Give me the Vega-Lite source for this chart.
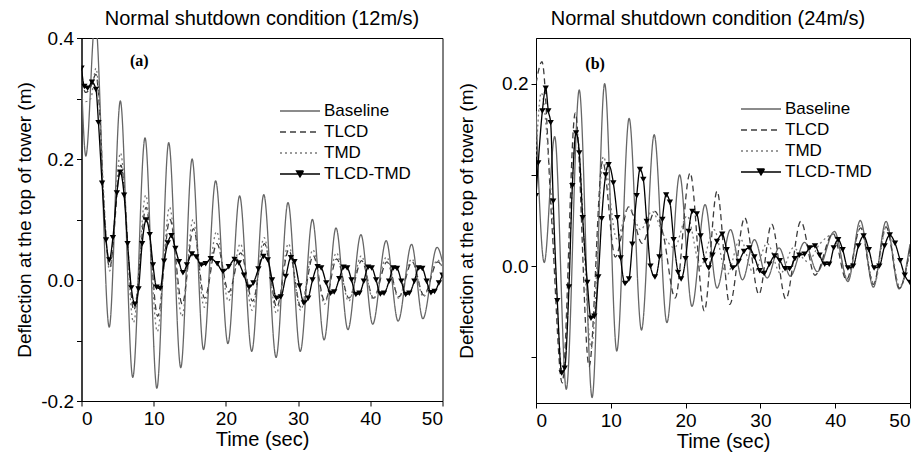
{
"$schema": "https://vega.github.io/schema/vega-lite/v6.json",
"padding": {"left": 14.5, "top": 8, "right": 5, "bottom": 5},
"config": {
 "font": "Liberation Sans",
 "view": {"stroke": "black", "strokeWidth": 1},
 "axis": {"grid": false, "domainColor": "black", "tickColor": "black", "labelColor": "black", "titleColor": "black", "labelFontSize": 19, "titleFontSize": 19, "titleFontWeight": "normal", "tickSize": 5, "labelPadding": 3, "labelFont": "Liberation Sans", "titleFont": "Liberation Sans"},
 "title": {"fontSize": 20, "fontWeight": "normal", "font": "Liberation Sans", "color": "black"}
},
"datasets": {
"a": [
{"s":"Baseline","t":0,"v":0.33},{"s":"Baseline","t":0.6,"v":0.205},{"s":"Baseline","t":1.9,"v":0.43},{"s":"Baseline","t":3.84,"v":-0.078},{"s":"Baseline","t":5.38,"v":0.296},{"s":"Baseline","t":7.1,"v":-0.161},{"s":"Baseline","t":8.8,"v":0.235},{"s":"Baseline","t":10.44,"v":-0.179},{"s":"Baseline","t":12.08,"v":0.227},{"s":"Baseline","t":13.75,"v":-0.145},{"s":"Baseline","t":15.32,"v":0.2},{"s":"Baseline","t":16.9,"v":-0.115},{"s":"Baseline","t":18.58,"v":0.164},{"s":"Baseline","t":20.28,"v":-0.105},{"s":"Baseline","t":21.9,"v":0.139},{"s":"Baseline","t":23.58,"v":-0.118},{"s":"Baseline","t":25.25,"v":0.141},{"s":"Baseline","t":26.95,"v":-0.128},{"s":"Baseline","t":28.6,"v":0.128},{"s":"Baseline","t":30.3,"v":-0.118},{"s":"Baseline","t":31.98,"v":0.1},{"s":"Baseline","t":33.6,"v":-0.099},{"s":"Baseline","t":35.25,"v":0.086},{"s":"Baseline","t":36.9,"v":-0.082},{"s":"Baseline","t":38.7,"v":0.075},{"s":"Baseline","t":40.33,"v":-0.073},{"s":"Baseline","t":42.2,"v":0.065},{"s":"Baseline","t":43.85,"v":-0.068},{"s":"Baseline","t":45.72,"v":0.059},{"s":"Baseline","t":47.28,"v":-0.064},{"s":"Baseline","t":49.25,"v":0.054},{"s":"Baseline","t":50,"v":0.03},
{"s":"TLCD","t":0,"v":0.33},{"s":"TLCD","t":0.6,"v":0.31},{"s":"TLCD","t":1.3,"v":0.32},{"s":"TLCD","t":2.0,"v":0.34},{"s":"TLCD","t":2.5,"v":0.28},{"s":"TLCD","t":3.0,"v":0.15},{"s":"TLCD","t":3.9,"v":0.02},{"s":"TLCD","t":5.45,"v":0.19},{"s":"TLCD","t":7.25,"v":-0.05},{"s":"TLCD","t":8.95,"v":0.12},{"s":"TLCD","t":10.55,"v":-0.06},{"s":"TLCD","t":12.25,"v":0.1},{"s":"TLCD","t":13.95,"v":-0.04},{"s":"TLCD","t":15.5,"v":0.085},{"s":"TLCD","t":17.05,"v":-0.03},{"s":"TLCD","t":18.75,"v":0.06},{"s":"TLCD","t":20.4,"v":-0.02},{"s":"TLCD","t":22.05,"v":0.045},{"s":"TLCD","t":23.7,"v":-0.035},{"s":"TLCD","t":25.35,"v":0.06},{"s":"TLCD","t":27.05,"v":-0.045},{"s":"TLCD","t":28.7,"v":0.05},{"s":"TLCD","t":30.4,"v":-0.045},{"s":"TLCD","t":32.1,"v":0.04},{"s":"TLCD","t":33.7,"v":-0.035},{"s":"TLCD","t":35.35,"v":0.035},{"s":"TLCD","t":37.05,"v":-0.03},{"s":"TLCD","t":38.8,"v":0.032},{"s":"TLCD","t":40.45,"v":-0.03},{"s":"TLCD","t":42.3,"v":0.03},{"s":"TLCD","t":43.95,"v":-0.028},{"s":"TLCD","t":45.8,"v":0.03},{"s":"TLCD","t":47.4,"v":-0.025},{"s":"TLCD","t":49.35,"v":0.03},{"s":"TLCD","t":50,"v":0.02},
{"s":"TMD","t":0,"v":0.3},{"s":"TMD","t":0.6,"v":0.295},{"s":"TMD","t":1.3,"v":0.3},{"s":"TMD","t":2.0,"v":0.35},{"s":"TMD","t":2.5,"v":0.29},{"s":"TMD","t":3.0,"v":0.16},{"s":"TMD","t":3.9,"v":0.015},{"s":"TMD","t":5.4,"v":0.21},{"s":"TMD","t":7.2,"v":-0.07},{"s":"TMD","t":8.9,"v":0.14},{"s":"TMD","t":10.5,"v":-0.085},{"s":"TMD","t":12.2,"v":0.12},{"s":"TMD","t":13.9,"v":-0.06},{"s":"TMD","t":15.45,"v":0.1},{"s":"TMD","t":17.0,"v":-0.045},{"s":"TMD","t":18.7,"v":0.08},{"s":"TMD","t":20.35,"v":-0.035},{"s":"TMD","t":22.0,"v":0.06},{"s":"TMD","t":23.65,"v":-0.05},{"s":"TMD","t":25.3,"v":0.07},{"s":"TMD","t":27.0,"v":-0.055},{"s":"TMD","t":28.65,"v":0.06},{"s":"TMD","t":30.35,"v":-0.05},{"s":"TMD","t":32.05,"v":0.05},{"s":"TMD","t":33.65,"v":-0.04},{"s":"TMD","t":35.3,"v":0.045},{"s":"TMD","t":37.0,"v":-0.035},{"s":"TMD","t":38.75,"v":0.04},{"s":"TMD","t":40.4,"v":-0.032},{"s":"TMD","t":42.25,"v":0.038},{"s":"TMD","t":43.9,"v":-0.03},{"s":"TMD","t":45.75,"v":0.035},{"s":"TMD","t":47.35,"v":-0.028},{"s":"TMD","t":49.3,"v":0.033},{"s":"TMD","t":50,"v":0.02},
{"s":"TLCD-TMD","t":0,"v":0.35},{"s":"TLCD-TMD","t":0.4,"v":0.32},{"s":"TLCD-TMD","t":0.85,"v":0.317},{"s":"TLCD-TMD","t":1.45,"v":0.327},{"s":"TLCD-TMD","t":2.0,"v":0.315},{"s":"TLCD-TMD","t":2.35,"v":0.26},{"s":"TLCD-TMD","t":2.85,"v":0.16},{"s":"TLCD-TMD","t":3.4,"v":0.066},{"s":"TLCD-TMD","t":3.85,"v":0.033},{"s":"TLCD-TMD","t":4.35,"v":0.07},{"s":"TLCD-TMD","t":4.9,"v":0.144},{"s":"TLCD-TMD","t":5.38,"v":0.178},{"s":"TLCD-TMD","t":5.9,"v":0.14},{"s":"TLCD-TMD","t":6.38,"v":0.06},{"s":"TLCD-TMD","t":6.9,"v":-0.013},{"s":"TLCD-TMD","t":7.4,"v":-0.04},{"s":"TLCD-TMD","t":7.9,"v":-0.015},{"s":"TLCD-TMD","t":8.4,"v":0.06},{"s":"TLCD-TMD","t":8.95,"v":0.099},{"s":"TLCD-TMD","t":9.45,"v":0.075},{"s":"TLCD-TMD","t":9.9,"v":0.025},{"s":"TLCD-TMD","t":10.4,"v":-0.012},{"s":"TLCD-TMD","t":10.9,"v":-0.014},{"s":"TLCD-TMD","t":11.45,"v":0.031},{"s":"TLCD-TMD","t":11.95,"v":0.061},{"s":"TLCD-TMD","t":12.45,"v":0.073},{"s":"TLCD-TMD","t":13.0,"v":0.052},{"s":"TLCD-TMD","t":13.5,"v":0.03},{"s":"TLCD-TMD","t":14.05,"v":0.012},{"s":"TLCD-TMD","t":14.6,"v":0.025},{"s":"TLCD-TMD","t":15.3,"v":0.043},{"s":"TLCD-TMD","t":15.9,"v":0.038},{"s":"TLCD-TMD","t":16.6,"v":0.025},{"s":"TLCD-TMD","t":17.2,"v":0.027},{"s":"TLCD-TMD","t":17.9,"v":0.035},{"s":"TLCD-TMD","t":18.8,"v":0.027},{"s":"TLCD-TMD","t":19.6,"v":0.014},{"s":"TLCD-TMD","t":20.4,"v":0.022},{"s":"TLCD-TMD","t":21.2,"v":0.034},{"s":"TLCD-TMD","t":21.8,"v":0.028},{"s":"TLCD-TMD","t":22.5,"v":0.008},{"s":"TLCD-TMD","t":23.2,"v":-0.012},{"s":"TLCD-TMD","t":23.8,"v":-0.005},{"s":"TLCD-TMD","t":24.5,"v":0.018},{"s":"TLCD-TMD","t":25.2,"v":0.039},{"s":"TLCD-TMD","t":25.8,"v":0.033},{"s":"TLCD-TMD","t":26.4,"v":0.0},{"s":"TLCD-TMD","t":27.0,"v":-0.03},{"s":"TLCD-TMD","t":27.6,"v":-0.028},{"s":"TLCD-TMD","t":28.3,"v":0.006},{"s":"TLCD-TMD","t":29.0,"v":0.037},{"s":"TLCD-TMD","t":29.5,"v":0.03},{"s":"TLCD-TMD","t":30.2,"v":-0.01},{"s":"TLCD-TMD","t":30.8,"v":-0.038},{"s":"TLCD-TMD","t":31.4,"v":-0.03},{"s":"TLCD-TMD","t":32.0,"v":0.0},{"s":"TLCD-TMD","t":32.7,"v":0.022},{"s":"TLCD-TMD","t":33.2,"v":0.02},{"s":"TLCD-TMD","t":33.9,"v":-0.005},{"s":"TLCD-TMD","t":34.5,"v":-0.022},{"s":"TLCD-TMD","t":35.0,"v":-0.02},{"s":"TLCD-TMD","t":35.7,"v":0.002},{"s":"TLCD-TMD","t":36.3,"v":0.021},{"s":"TLCD-TMD","t":36.8,"v":0.02},{"s":"TLCD-TMD","t":37.4,"v":0.0},{"s":"TLCD-TMD","t":38.0,"v":-0.024},{"s":"TLCD-TMD","t":38.5,"v":-0.022},{"s":"TLCD-TMD","t":39.1,"v":-0.002},{"s":"TLCD-TMD","t":39.7,"v":0.021},{"s":"TLCD-TMD","t":40.2,"v":0.02},{"s":"TLCD-TMD","t":40.8,"v":0.0},{"s":"TLCD-TMD","t":41.4,"v":-0.023},{"s":"TLCD-TMD","t":41.9,"v":-0.022},{"s":"TLCD-TMD","t":42.6,"v":-0.002},{"s":"TLCD-TMD","t":43.2,"v":0.02},{"s":"TLCD-TMD","t":43.7,"v":0.019},{"s":"TLCD-TMD","t":44.3,"v":-0.002},{"s":"TLCD-TMD","t":44.9,"v":-0.024},{"s":"TLCD-TMD","t":45.4,"v":-0.022},{"s":"TLCD-TMD","t":46.1,"v":-0.002},{"s":"TLCD-TMD","t":46.7,"v":0.02},{"s":"TLCD-TMD","t":47.2,"v":0.019},{"s":"TLCD-TMD","t":47.8,"v":-0.002},{"s":"TLCD-TMD","t":48.4,"v":-0.021},{"s":"TLCD-TMD","t":48.9,"v":-0.019},{"s":"TLCD-TMD","t":49.5,"v":-0.005},{"s":"TLCD-TMD","t":50,"v":0.008}
],
"b": [
{"s":"Baseline","t":0,"v":0.17},{"s":"Baseline","t":1.1,"v":0.004},{"s":"Baseline","t":2.5,"v":0.142},{"s":"Baseline","t":4.05,"v":-0.135},{"s":"Baseline","t":5.78,"v":0.193},{"s":"Baseline","t":7.5,"v":-0.144},{"s":"Baseline","t":9.18,"v":0.2},{"s":"Baseline","t":10.8,"v":-0.093},{"s":"Baseline","t":12.45,"v":0.162},{"s":"Baseline","t":14.1,"v":-0.07},{"s":"Baseline","t":15.8,"v":0.144},{"s":"Baseline","t":17.5,"v":-0.062},{"s":"Baseline","t":19.2,"v":0.1},{"s":"Baseline","t":20.85,"v":-0.044},{"s":"Baseline","t":22.6,"v":0.0675},{"s":"Baseline","t":24.2,"v":-0.024},{"s":"Baseline","t":26.0,"v":0.04},{"s":"Baseline","t":27.6,"v":-0.015},{"s":"Baseline","t":29.2,"v":0.029},{"s":"Baseline","t":30.9,"v":-0.013},{"s":"Baseline","t":32.5,"v":0.02},{"s":"Baseline","t":34.0,"v":-0.011},{"s":"Baseline","t":35.9,"v":0.026},{"s":"Baseline","t":37.6,"v":-0.006},{"s":"Baseline","t":39.9,"v":0.038},{"s":"Baseline","t":41.7,"v":-0.017},{"s":"Baseline","t":43.35,"v":0.05},{"s":"Baseline","t":45.1,"v":-0.023},{"s":"Baseline","t":46.8,"v":0.049},{"s":"Baseline","t":48.55,"v":-0.025},{"s":"Baseline","t":50,"v":0.024},
{"s":"TLCD","t":0,"v":0.2},{"s":"TLCD","t":0.8,"v":0.224},{"s":"TLCD","t":2.1,"v":0.05},{"s":"TLCD","t":3.5,"v":-0.128},{"s":"TLCD","t":5.25,"v":0.168},{"s":"TLCD","t":7.1,"v":-0.11},{"s":"TLCD","t":8.9,"v":0.115},{"s":"TLCD","t":10.6,"v":0.01},{"s":"TLCD","t":12.4,"v":0.065},{"s":"TLCD","t":14.2,"v":0.025},{"s":"TLCD","t":15.9,"v":0.06},{"s":"TLCD","t":17.0,"v":0.035},{"s":"TLCD","t":18.6,"v":-0.035},{"s":"TLCD","t":20.6,"v":0.102},{"s":"TLCD","t":22.5,"v":-0.049},{"s":"TLCD","t":24.2,"v":0.082},{"s":"TLCD","t":25.9,"v":-0.042},{"s":"TLCD","t":27.9,"v":0.053},{"s":"TLCD","t":29.8,"v":-0.031},{"s":"TLCD","t":31.5,"v":0.046},{"s":"TLCD","t":33.4,"v":-0.036},{"s":"TLCD","t":35.4,"v":0.049},{"s":"TLCD","t":37.3,"v":-0.01},{"s":"TLCD","t":39.7,"v":0.036},{"s":"TLCD","t":41.5,"v":-0.015},{"s":"TLCD","t":43.4,"v":0.042},{"s":"TLCD","t":45.1,"v":-0.02},{"s":"TLCD","t":46.8,"v":0.043},{"s":"TLCD","t":48.6,"v":-0.024},{"s":"TLCD","t":50,"v":0.02},
{"s":"TMD","t":0,"v":0.12},{"s":"TMD","t":0.7,"v":0.19},{"s":"TMD","t":2.1,"v":0.07},{"s":"TMD","t":3.6,"v":-0.12},{"s":"TMD","t":5.4,"v":0.15},{"s":"TMD","t":7.4,"v":-0.09},{"s":"TMD","t":9.0,"v":0.12},{"s":"TMD","t":10.8,"v":0.03},{"s":"TMD","t":12.4,"v":0.065},{"s":"TMD","t":14.0,"v":0.04},{"s":"TMD","t":15.5,"v":0.06},{"s":"TMD","t":17.0,"v":0.035},{"s":"TMD","t":18.5,"v":0.02},{"s":"TMD","t":20.2,"v":0.055},{"s":"TMD","t":22.0,"v":0.0},{"s":"TMD","t":23.8,"v":0.04},{"s":"TMD","t":25.5,"v":-0.01},{"s":"TMD","t":27.3,"v":0.03},{"s":"TMD","t":29.1,"v":-0.008},{"s":"TMD","t":30.9,"v":0.025},{"s":"TMD","t":32.7,"v":-0.008},{"s":"TMD","t":34.4,"v":0.02},{"s":"TMD","t":36.3,"v":0.005},{"s":"TMD","t":38.0,"v":0.025},{"s":"TMD","t":39.9,"v":0.035},{"s":"TMD","t":41.7,"v":-0.015},{"s":"TMD","t":43.4,"v":0.045},{"s":"TMD","t":45.2,"v":-0.02},{"s":"TMD","t":46.9,"v":0.045},{"s":"TMD","t":48.6,"v":-0.022},{"s":"TMD","t":50,"v":0.015},
{"s":"TLCD-TMD","t":0,"v":0.077},{"s":"TLCD-TMD","t":0.3,"v":0.113},{"s":"TLCD-TMD","t":0.85,"v":0.17},{"s":"TLCD-TMD","t":1.3,"v":0.195},{"s":"TLCD-TMD","t":1.65,"v":0.17},{"s":"TLCD-TMD","t":1.96,"v":0.157},{"s":"TLCD-TMD","t":2.3,"v":0.071},{"s":"TLCD-TMD","t":2.85,"v":-0.038},{"s":"TLCD-TMD","t":3.43,"v":-0.117},{"s":"TLCD-TMD","t":3.83,"v":-0.112},{"s":"TLCD-TMD","t":4.41,"v":-0.023},{"s":"TLCD-TMD","t":4.86,"v":0.088},{"s":"TLCD-TMD","t":5.35,"v":0.146},{"s":"TLCD-TMD","t":5.79,"v":0.124},{"s":"TLCD-TMD","t":6.24,"v":0.053},{"s":"TLCD-TMD","t":6.86,"v":-0.018},{"s":"TLCD-TMD","t":7.35,"v":-0.057},{"s":"TLCD-TMD","t":7.8,"v":-0.055},{"s":"TLCD-TMD","t":8.33,"v":-0.012},{"s":"TLCD-TMD","t":8.78,"v":0.052},{"s":"TLCD-TMD","t":9.31,"v":0.1},{"s":"TLCD-TMD","t":9.71,"v":0.111},{"s":"TLCD-TMD","t":10.34,"v":0.091},{"s":"TLCD-TMD","t":10.87,"v":0.053},{"s":"TLCD-TMD","t":11.32,"v":0.009},{"s":"TLCD-TMD","t":11.9,"v":-0.019},{"s":"TLCD-TMD","t":12.43,"v":-0.014},{"s":"TLCD-TMD","t":12.88,"v":0.024},{"s":"TLCD-TMD","t":13.46,"v":0.077},{"s":"TLCD-TMD","t":13.9,"v":0.106},{"s":"TLCD-TMD","t":14.35,"v":0.095},{"s":"TLCD-TMD","t":14.8,"v":0.049},{"s":"TLCD-TMD","t":15.3,"v":0.0},{"s":"TLCD-TMD","t":15.9,"v":-0.012},{"s":"TLCD-TMD","t":16.5,"v":0.01},{"s":"TLCD-TMD","t":16.9,"v":0.051},{"s":"TLCD-TMD","t":17.4,"v":0.078},{"s":"TLCD-TMD","t":17.9,"v":0.07},{"s":"TLCD-TMD","t":18.4,"v":0.029},{"s":"TLCD-TMD","t":19.0,"v":-0.007},{"s":"TLCD-TMD","t":19.4,"v":-0.014},{"s":"TLCD-TMD","t":20.0,"v":0.008},{"s":"TLCD-TMD","t":20.4,"v":0.038},{"s":"TLCD-TMD","t":20.9,"v":0.06},{"s":"TLCD-TMD","t":21.5,"v":0.057},{"s":"TLCD-TMD","t":22.0,"v":0.033},{"s":"TLCD-TMD","t":22.6,"v":0.006},{"s":"TLCD-TMD","t":23.1,"v":-0.002},{"s":"TLCD-TMD","t":23.6,"v":0.012},{"s":"TLCD-TMD","t":24.2,"v":0.027},{"s":"TLCD-TMD","t":24.9,"v":0.035},{"s":"TLCD-TMD","t":25.5,"v":0.018},{"s":"TLCD-TMD","t":26.3,"v":-0.002},{"s":"TLCD-TMD","t":27.1,"v":0.005},{"s":"TLCD-TMD","t":27.8,"v":0.016},{"s":"TLCD-TMD","t":28.5,"v":0.02},{"s":"TLCD-TMD","t":29.2,"v":0.01},{"s":"TLCD-TMD","t":29.9,"v":-0.005},{"s":"TLCD-TMD","t":30.5,"v":-0.008},{"s":"TLCD-TMD","t":31.2,"v":0.002},{"s":"TLCD-TMD","t":31.9,"v":0.011},{"s":"TLCD-TMD","t":32.6,"v":0.006},{"s":"TLCD-TMD","t":33.3,"v":-0.003},{"s":"TLCD-TMD","t":33.9,"v":-0.003},{"s":"TLCD-TMD","t":34.6,"v":0.008},{"s":"TLCD-TMD","t":35.2,"v":0.012},{"s":"TLCD-TMD","t":35.9,"v":0.013},{"s":"TLCD-TMD","t":36.6,"v":0.02},{"s":"TLCD-TMD","t":37.3,"v":0.022},{"s":"TLCD-TMD","t":37.9,"v":0.012},{"s":"TLCD-TMD","t":38.6,"v":0.002},{"s":"TLCD-TMD","t":39.2,"v":0.002},{"s":"TLCD-TMD","t":39.8,"v":0.02},{"s":"TLCD-TMD","t":40.4,"v":0.029},{"s":"TLCD-TMD","t":41.0,"v":0.018},{"s":"TLCD-TMD","t":41.7,"v":-0.002},{"s":"TLCD-TMD","t":42.4,"v":0.0},{"s":"TLCD-TMD","t":43.1,"v":0.022},{"s":"TLCD-TMD","t":43.8,"v":0.033},{"s":"TLCD-TMD","t":44.5,"v":0.018},{"s":"TLCD-TMD","t":45.2,"v":-0.002},{"s":"TLCD-TMD","t":45.9,"v":0.0},{"s":"TLCD-TMD","t":46.6,"v":0.022},{"s":"TLCD-TMD","t":47.3,"v":0.034},{"s":"TLCD-TMD","t":48.0,"v":0.025},{"s":"TLCD-TMD","t":48.7,"v":0.006},{"s":"TLCD-TMD","t":49.3,"v":-0.01},{"s":"TLCD-TMD","t":50,"v":-0.018}
]
},
"spacing": 13.5,
"resolve": {"scale": {"x": "independent", "y": "independent", "color": "independent", "strokeDash": "independent"}, "legend": {"color": "independent", "strokeDash": "independent"}},
"hconcat": [
{
 "width": 361, "height": 363,
 "title": {"text": "Normal shutdown condition (12m/s)", "frame": "group", "anchor": "middle", "offset": 0},
 "layer": [
  {"data": {"name": "a"},
   "mark": {"type": "line", "interpolate": "monotone", "strokeWidth": 1.3, "clip": true},
   "encoding": {
    "x": {"field": "t", "type": "quantitative", "scale": {"domain": [0, 50], "nice": false}, "axis": {"title": "Time (sec)", "titleFontSize": 20, "values": [0,5,10,15,20,25,30,35,40,45,50], "labelExpr": "datum.value % 10 === 0 ? datum.label : ''", "titlePadding": 1}},
    "y": {"field": "v", "type": "quantitative", "scale": {"domain": [-0.2, 0.4], "nice": false, "zero": false}, "axis": {"title": "Deflection at the top of tower (m)", "values": [-0.2,-0.1,0,0.1,0.2,0.3,0.4], "labelExpr": "abs(round(datum.value*10)) % 2 === 0 ? replace(format(datum.value, '.1f'), '\u2212', '-') : ''", "titlePadding": 6}},
    "color": {"field": "s", "type": "nominal", "scale": {"domain": ["Baseline","TLCD","TMD","TLCD-TMD"], "range": ["#666666","#3c3c3c","#7a7a7a","#000000"]},
      "legend": {"orient": "none", "legendX": 207.5, "legendY": 62, "title": null, "labelFontSize": 17, "labelFont": "Liberation Sans", "labelColor": "black", "symbolSize": 400, "symbolStrokeWidth": 1.3, "labelOffset": 13, "rowPadding": 2, "padding": 0,
        "encode": {"symbols": {"update": {"shape": {"signal": "datum.value === 'TLCD-TMD' ? 'M-2,0H2M-0.35,-0.3H0.35L0,0.3Z' : 'M-2,0H2'"}, "fill": {"signal": "datum.value === 'TLCD-TMD' ? '#000000' : 'transparent'"}}}}}},
    "strokeDash": {"field": "s", "type": "nominal", "scale": {"domain": ["Baseline","TLCD","TMD","TLCD-TMD"], "range": [[1,0],[6,4],[2,3],[1,0]]},
      "legend": {"orient": "none", "legendX": 207.5, "legendY": 62, "title": null, "labelFontSize": 17, "labelFont": "Liberation Sans", "labelColor": "black", "symbolSize": 400, "symbolStrokeWidth": 1.3, "labelOffset": 13, "rowPadding": 2, "padding": 0,
        "encode": {"symbols": {"update": {"shape": {"signal": "datum.value === 'TLCD-TMD' ? 'M-2,0H2M-0.35,-0.3H0.35L0,0.3Z' : 'M-2,0H2'"}, "fill": {"signal": "datum.value === 'TLCD-TMD' ? '#000000' : 'transparent'"}}}}}}
   }},
  {"data": {"name": "a"}, "transform": [{"filter": "datum.s === 'TLCD-TMD'"}],
   "mark": {"type": "point", "shape": "triangle-down", "filled": true, "color": "black", "size": 40, "opacity": 1, "clip": true},
   "encoding": {"x": {"field": "t", "type": "quantitative"}, "y": {"field": "v", "type": "quantitative"}}},
  {"data": {"values": [{"t": 8, "v": 0.362, "lab": "(a)"}]},
   "mark": {"type": "text", "font": "Liberation Serif", "fontWeight": "bold", "fontSize": 16, "color": "black"},
   "encoding": {"x": {"field": "t", "type": "quantitative"}, "y": {"field": "v", "type": "quantitative"}, "text": {"field": "lab"}}}
 ]
},
{
 "width": 374, "height": 365,
 "title": {"text": "Normal shutdown condition (24m/s)", "frame": "group", "anchor": "middle", "offset": 9, "dx": -15},
 "layer": [
  {"data": {"name": "b"},
   "mark": {"type": "line", "interpolate": "monotone", "strokeWidth": 1.3, "clip": true},
   "encoding": {
    "x": {"field": "t", "type": "quantitative", "scale": {"domain": [0, 50], "nice": false}, "axis": {"title": "Time (sec)", "titleFontSize": 20, "values": [0,5,10,15,20,25,30,35,40,45,50], "labelExpr": "datum.value % 10 === 0 ? datum.label : ''", "titlePadding": 1}},
    "y": {"field": "v", "type": "quantitative", "scale": {"domain": [-0.15, 0.25], "nice": false, "zero": false}, "axis": {"title": "Deflection at the top of tower (m)", "values": [-0.1,0,0.1,0.2], "labelExpr": "abs(round(datum.value*10)) % 2 === 0 ? replace(format(datum.value, '.1f'), '\u2212', '-') : ''", "titlePadding": 25}},
    "color": {"field": "s", "type": "nominal", "scale": {"domain": ["Baseline","TLCD","TMD","TLCD-TMD"], "range": ["#666666","#3c3c3c","#7a7a7a","#000000"]},
      "legend": {"orient": "none", "legendX": 214, "legendY": 60, "title": null, "labelFontSize": 17, "labelFont": "Liberation Sans", "labelColor": "black", "symbolSize": 400, "symbolStrokeWidth": 1.3, "labelOffset": 13, "rowPadding": 2, "padding": 0,
        "encode": {"symbols": {"update": {"shape": {"signal": "datum.value === 'TLCD-TMD' ? 'M-2,0H2M-0.35,-0.3H0.35L0,0.3Z' : 'M-2,0H2'"}, "fill": {"signal": "datum.value === 'TLCD-TMD' ? '#000000' : 'transparent'"}}}}}},
    "strokeDash": {"field": "s", "type": "nominal", "scale": {"domain": ["Baseline","TLCD","TMD","TLCD-TMD"], "range": [[1,0],[6,4],[2,3],[1,0]]},
      "legend": {"orient": "none", "legendX": 214, "legendY": 60, "title": null, "labelFontSize": 17, "labelFont": "Liberation Sans", "labelColor": "black", "symbolSize": 400, "symbolStrokeWidth": 1.3, "labelOffset": 13, "rowPadding": 2, "padding": 0,
        "encode": {"symbols": {"update": {"shape": {"signal": "datum.value === 'TLCD-TMD' ? 'M-2,0H2M-0.35,-0.3H0.35L0,0.3Z' : 'M-2,0H2'"}, "fill": {"signal": "datum.value === 'TLCD-TMD' ? '#000000' : 'transparent'"}}}}}}
   }},
  {"data": {"name": "b"}, "transform": [{"filter": "datum.s === 'TLCD-TMD'"}],
   "mark": {"type": "point", "shape": "triangle-down", "filled": true, "color": "black", "size": 40, "opacity": 1, "clip": true},
   "encoding": {"x": {"field": "t", "type": "quantitative"}, "y": {"field": "v", "type": "quantitative"}}},
  {"data": {"values": [{"t": 7.9, "v": 0.221, "lab": "(b)"}]},
   "mark": {"type": "text", "font": "Liberation Serif", "fontWeight": "bold", "fontSize": 16, "color": "black"},
   "encoding": {"x": {"field": "t", "type": "quantitative"}, "y": {"field": "v", "type": "quantitative"}, "text": {"field": "lab"}}}
 ]
}
]
}
